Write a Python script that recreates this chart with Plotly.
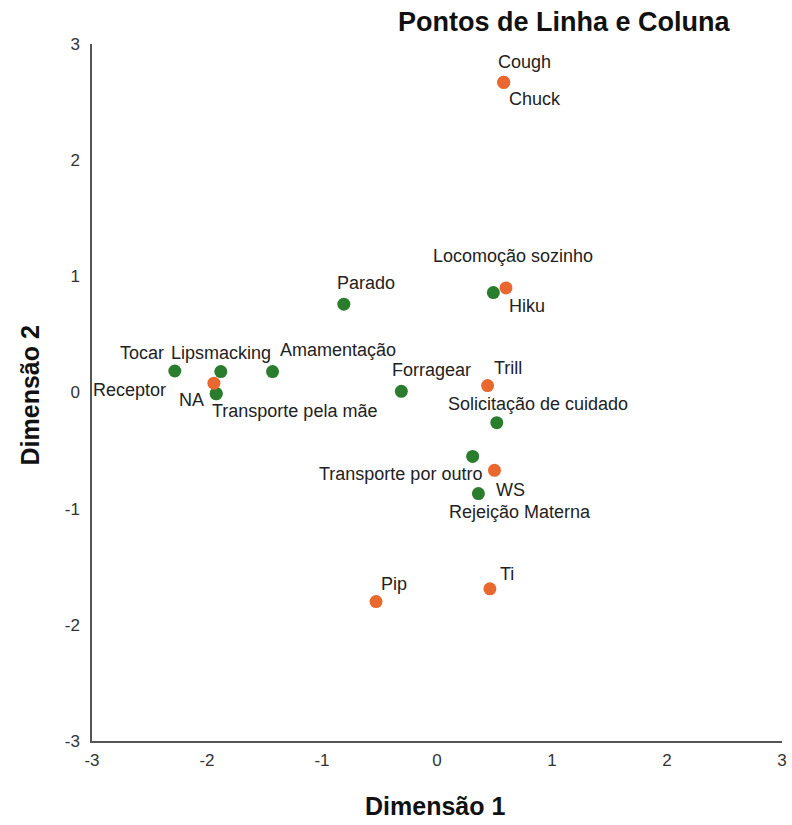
import plotly.graph_objects as go

# Vocalization categories (orange points)
voc_labels = ["Cough", "Chuck", "Hiku", "Trill", "WS", "Pip", "Ti", "NA"]
voc_x = [0.58, 0.58, 0.60, 0.44, 0.50, -0.53, 0.46, -1.94]
voc_y = [2.67, 2.67, 0.90, 0.06, -0.67, -1.80, -1.69, 0.08]

# Behaviour categories (green points)
beh_labels = ["Locomoção sozinho", "Parado", "Tocar", "Lipsmacking", "Amamentação",
              "Receptor", "Transporte pela mãe", "Forragear",
              "Solicitação de cuidado", "Transporte por outro", "Rejeição Materna"]
beh_x = [0.49, -0.81, -2.28, -1.88, -1.43, -1.92, -1.92, -0.31, 0.52, 0.31, 0.36]
beh_y = [0.86, 0.76, 0.185, 0.18, 0.18, -0.01, -0.01, 0.01, -0.26, -0.55, -0.87]

tick_vals = [-3, -2, -1, 0, 1, 2, 3]

# Pixel offsets (right, down) of each point label centre from its marker
label_offsets = {
    "Cough": (21, -20), "Chuck": (31, 17), "Hiku": (21, 18), "Trill": (20, -18),
    "WS": (16, 20), "Pip": (18, -18), "Ti": (17, -15), "NA": (-22, 17),
    "Locomoção sozinho": (20, -37), "Parado": (22, -21), "Tocar": (-33, -18),
    "Lipsmacking": (0, -19), "Amamentação": (65, -22), "Receptor": (-87, -4),
    "Transporte pela mãe": (78, 17), "Forragear": (30, -21),
    "Solicitação de cuidado": (41, -19), "Transporte por outro": (-72, 18),
    "Rejeição Materna": (42, 18),
}

GREEN = "#2b7d2e"
ORANGE = "#e8682f"
FONT = "Liberation Sans, Arial, sans-serif"

# Plot-area geometry in pixels
W, H = 792, 825
L, R, T, B = 92, 787, 44, 741


def px_x(px):
    return (px - L) / (R - L)


def px_y(py):
    return (B - py) / (B - T)


fig = go.Figure()
fig.add_trace(go.Scatter(x=beh_x, y=beh_y, mode="markers", name="Comportamento",
                         marker=dict(color=GREEN, size=13, line=dict(width=0))))
fig.add_trace(go.Scatter(x=voc_x, y=voc_y, mode="markers", name="Vocalização",
                         marker=dict(color=ORANGE, size=13, line=dict(width=0))))

annotations = []
for labels, xs, ys in ((beh_labels, beh_x, beh_y), (voc_labels, voc_x, voc_y)):
    for lab, x, y in zip(labels, xs, ys):
        dx, dy = label_offsets[lab]
        annotations.append(dict(x=x, y=y, xref="x", yref="y", text=lab,
                                showarrow=False, xanchor="center", yanchor="middle",
                                xshift=dx, yshift=-dy,
                                font=dict(family=FONT, size=18, color="#222222")))

# Chart title and axis titles
annotations.append(dict(x=px_x(567), y=px_y(22), xref="paper", yref="paper",
                        text="<b>Pontos de Linha e Coluna</b>", showarrow=False,
                        xanchor="center", yanchor="middle",
                        font=dict(family=FONT, size=27, color="#111111")))
annotations.append(dict(x=px_x(437), y=px_y(806), xref="paper", yref="paper",
                        text="<b>Dimensão 1</b>", showarrow=False,
                        xanchor="center", yanchor="middle",
                        font=dict(family=FONT, size=25, color="#111111")))
annotations.append(dict(x=px_x(30), y=px_y(395), xref="paper", yref="paper",
                        text="<b>Dimensão 2</b>", showarrow=False, textangle=-90,
                        xanchor="center", yanchor="middle",
                        font=dict(family=FONT, size=25, color="#111111")))

fig.update_layout(
    width=W, height=H,
    margin=dict(l=L, r=W - R, t=T, b=H - B),
    paper_bgcolor="white", plot_bgcolor="white",
    showlegend=False,
    annotations=annotations,
    font=dict(family=FONT, color="#222222"),
)

axis_common = dict(range=[-3, 3], tickvals=tick_vals, ticktext=[str(v) for v in tick_vals],
                   showgrid=False, zeroline=False, showline=True, linecolor="#555555",
                   linewidth=1.5, ticks="", tickfont=dict(family=FONT, size=17, color="#333333"))
fig.update_xaxes(**axis_common, ticklabelstandoff=3)
fig.update_yaxes(**axis_common, ticklabelstandoff=7)

fig.write_html("out.html")
